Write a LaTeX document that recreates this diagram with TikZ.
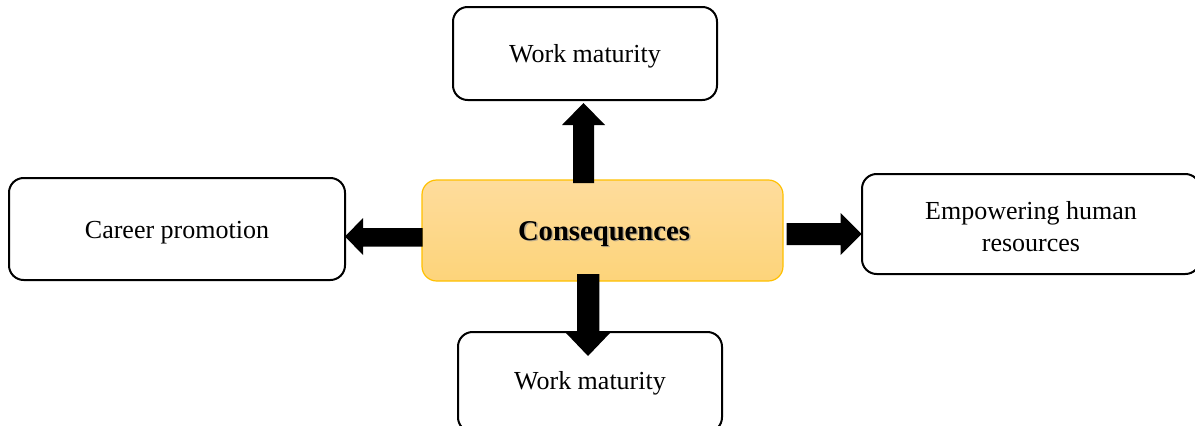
\documentclass[tikz,border=0pt]{standalone}
\usepackage{fontspec}
\setmainfont{Liberation Serif}
\usetikzlibrary{shapes.arrows}
\definecolor{orangeborder}{HTML}{FFC000}
\definecolor{gradtop}{HTML}{FEDC9C}
\definecolor{gradbot}{HTML}{FDD47A}
\tikzset{
  box/.style={draw=black, line width=1.5pt, rounded corners=11pt, fill=white},
  lbl/.style={font=\fontsize{19.5}{24}\selectfont, align=center, inner sep=0pt},
  blockarrow/.style={fill=black, draw=none},
}
\begin{document}
\begin{tikzpicture}[x=0.75pt,y=-0.75pt]
\useasboundingbox (0,0) rectangle (1195,425);
% boxes
\draw[box] (453,7) rectangle (717,100);
\node[lbl] (top) at (585,56) {Work maturity};
\draw[box] (9,178) rectangle (345,280);
\node[lbl] (left) at (177,233) {Career promotion};
\draw[box] (862,174) rectangle (1200,274);
\node[lbl] (right) at (1031,226.5) {Empowering human\\resources};
\draw[box] (458,332) rectangle (722,432);
\node[lbl] (bottom) at (590,383) {Work maturity};
% center
\draw[draw=orangeborder, line width=0.9pt, rounded corners=11pt, top color=gradtop, bottom color=gradbot] (422,180) rectangle (783,281);
\node[font=\fontsize{21.5}{26}\selectfont\bfseries, text=black!45, opacity=0.6, inner sep=0pt] at (605.5,235.5) {Consequences};
\node[font=\fontsize{21.5}{26}\selectfont\bfseries, inner sep=0pt] (center) at (604,234) {Consequences};
% arrows
\fill[blockarrow] (573,183) -- (573,125) -- (562,125) -- (583.5,103) -- (605,125) -- (594,125) -- (594,183) -- cycle;
\fill[blockarrow] (422.7,228) -- (363,228) -- (363,218) -- (345,236.5) -- (363,255) -- (363,246.7) -- (422.7,246.7) -- cycle;
\fill[blockarrow] (786.7,223) -- (840.7,223) -- (840.7,213) -- (861.7,234) -- (840.7,255) -- (840.7,245) -- (786.7,245) -- cycle;
\fill[blockarrow] (577,274) -- (599.3,274) -- (599.3,333) -- (610,333) -- (588,356) -- (566,333) -- (577,333) -- cycle;
\end{tikzpicture}
\end{document}
